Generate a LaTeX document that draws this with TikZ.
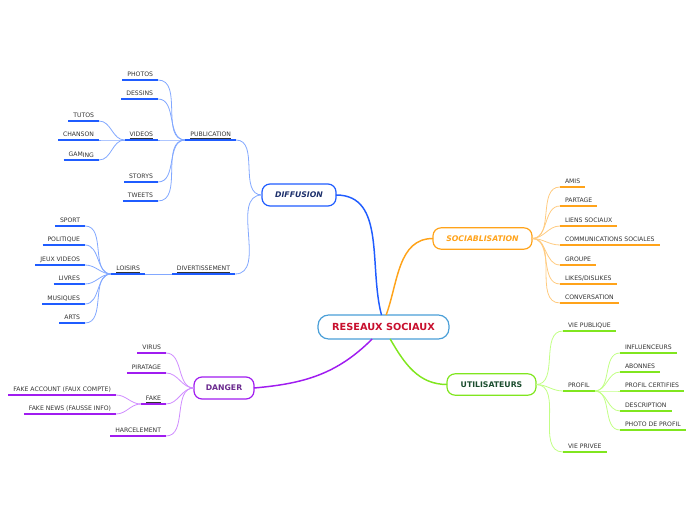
\documentclass[tikz,border=0pt]{standalone}
\usepackage{fontspec}
\setmainfont{DejaVu Sans}

\definecolor{mapblue}{HTML}{1F5CFF}
\definecolor{mapbluelt}{HTML}{82A8FF}
\definecolor{mapnavy}{HTML}{1C2F6B}
\definecolor{maporange}{HTML}{FFA31A}
\definecolor{maporangelt}{HTML}{FFCB80}
\definecolor{mapgreen}{HTML}{80E61F}
\definecolor{mapgreenlt}{HTML}{C2FF85}
\definecolor{mapgreentxt}{HTML}{1B4D2E}
\definecolor{mappurple}{HTML}{A01CF0}
\definecolor{mappurplelt}{HTML}{CF8CFF}
\definecolor{mappurpletxt}{HTML}{6B2A8F}
\definecolor{rootborder}{HTML}{4A9FD8}
\definecolor{roottext}{HTML}{C8102E}
\definecolor{leafgray}{HTML}{333333}

\tikzset{
  leaf/.style={inner xsep=3.75pt, inner ysep=2.6pt, outer sep=0pt,
    text height=3.4pt, text depth=0pt, text=leafgray,
    font=\fontsize{4.6}{5}\selectfont},
  lleaf/.style={leaf, anchor=south east},
  rleaf/.style={leaf, anchor=south west},
  topic/.style={draw, line width=0.9pt, rounded corners=6pt, fill=white,
    inner sep=0pt, outer sep=0pt, font=\fontsize{5.8}{7}\selectfont\bfseries},
  mainline/.style={line width=1.1pt},
  underl/.style={line width=1.5pt},
  twig/.style={line width=0.6pt}
}

\begin{document}
\begin{tikzpicture}[x=0.75pt,y=-0.75pt]
\useasboundingbox (0,0) rectangle (696,520);

% root and main topics
\node[topic, draw=rootborder, text=roottext, minimum width=98.25pt, minimum height=18pt,
  rounded corners=8pt, font=\fontsize{7.3}{9}\selectfont\bfseries] (reseaux) at (383.5,327) {RESEAUX SOCIAUX};
\node[topic, draw=mapblue, text=mapnavy, minimum width=55.5pt, minimum height=16.5pt,
  font=\fontsize{5.8}{7}\selectfont\bfseries\itshape] (diffusion) at (299,195) {DIFFUSION};
\node[topic, draw=maporange, text=maporange, minimum width=74.25pt, minimum height=16pt,
  font=\fontsize{5.8}{7}\selectfont\bfseries\itshape] (sociab) at (482.5,238.5) {SOCIABLISATION};
\node[topic, draw=mapgreen, text=mapgreentxt, minimum width=66.75pt, minimum height=16pt] (utilis) at (491.5,384.5) {UTILISATEURS};
\node[topic, draw=mappurple, text=mappurpletxt, minimum width=45pt, minimum height=16.5pt] (danger) at (224,388) {DANGER};

\draw[mainline, mapblue] (diffusion.east) to[out=0,in=105] ([xshift=-1.5pt]reseaux.north);
\draw[mainline, maporange] (sociab.west) to[out=180,in=70] ([xshift=2pt]reseaux.north);
\draw[mainline, mapgreen] ([xshift=5pt]reseaux.south) to[out=-60,in=180] (utilis.west);
\draw[mainline, mappurple] ([xshift=-8.5pt]reseaux.south) to[out=225,in=5] (danger.east);

% diffusion
\node[lleaf] (publication) at (236,140) {\underline{PUBLICATION}};
\node[lleaf] (photos) at (158,80) {PHOTOS};
\node[lleaf] (dessins) at (158,99) {DESSINS};
\node[lleaf] (videos) at (158,140) {\underline{VIDEOS}};
\node[lleaf] (storys) at (158,182) {STORYS};
\node[lleaf] (tweets) at (158,201) {TWEETS};
\node[lleaf] (tutos) at (99,121) {TUTOS};
\node[lleaf] (chanson) at (99,140) {CHANSON};
\node[lleaf] (gaming) at (99,160) {GAM\raisebox{-0.8pt}{ING}};
\node[lleaf] (divert) at (235,274) {\underline{DIVERTISSEMENT}};
\node[lleaf] (loisirs) at (145,274) {\underline{LOISIRS}};
\node[lleaf] (sport) at (85,226) {SPORT};
\node[lleaf] (politique) at (85,245) {POLITIQUE};
\node[lleaf] (jeux) at (85,265) {JEUX VIDEOS};
\node[lleaf] (livres) at (85,284) {LIVRES};
\node[lleaf] (musiques) at (85,304) {MUSIQUES};
\node[lleaf] (arts) at (85,323) {ARTS};

\foreach \n in {publication,divert}
  \draw[twig, mapbluelt] (diffusion.west) to[out=180,in=0] (\n.south east);
\foreach \n in {photos,dessins,videos,storys,tweets}
  \draw[twig, mapbluelt] (publication.south west) to[out=180,in=0] (\n.south east);
\foreach \n in {tutos,chanson,gaming}
  \draw[twig, mapbluelt] (videos.south west) to[out=180,in=0] (\n.south east);
\draw[twig, mapbluelt] (divert.south west) -- (loisirs.south east);
\foreach \n in {sport,politique,jeux,livres,musiques,arts}
  \draw[twig, mapbluelt] (loisirs.south west) to[out=180,in=0] (\n.south east);
\foreach \n in {publication,photos,dessins,videos,storys,tweets,tutos,chanson,gaming,
    divert,loisirs,sport,politique,jeux,livres,musiques,arts}
  \draw[underl, mapblue] (\n.south west) -- (\n.south east);

% danger
\node[lleaf] (virus) at (166,353) {VIRUS};
\node[lleaf] (piratage) at (166,373) {PIRATAGE};
\node[lleaf] (fake) at (166,404) {\underline{FAKE}};
\node[lleaf] (harcelement) at (166,436) {HARCELEMENT};
\node[lleaf] (fakeaccount) at (116,395) {FAKE ACCOUNT (FAUX COMPTE)};
\node[lleaf] (fakenews) at (116,414) {FAKE NEWS (FAUSSE INFO)};

\foreach \n in {virus,piratage,fake,harcelement}
  \draw[twig, mappurplelt] (danger.west) to[out=180,in=0] (\n.south east);
\foreach \n in {fakeaccount,fakenews}
  \draw[twig, mappurplelt] (fake.south west) to[out=180,in=0] (\n.south east);
\foreach \n in {virus,piratage,fake,harcelement,fakeaccount,fakenews}
  \draw[underl, mappurple] (\n.south west) -- (\n.south east);

% sociablisation
\node[rleaf] (amis) at (560,187) {AMIS};
\node[rleaf] (partage) at (560,206) {PARTAGE};
\node[rleaf] (liens) at (560,226) {LIENS SOCIAUX};
\node[rleaf] (communic) at (560,245) {COMMUNICATIONS SOCIALES};
\node[rleaf] (groupe) at (560,265) {GROUPE};
\node[rleaf] (likes) at (560,284) {LIKES/DISLIKES};
\node[rleaf] (conversation) at (560,303) {CONVERSATION};

\foreach \n in {amis,partage,liens,communic,groupe,likes,conversation}
  \draw[twig, maporangelt] (sociab.east) to[out=0,in=180] (\n.south west);
\foreach \n in {amis,partage,liens,communic,groupe,likes,conversation}
  \draw[underl, maporange] (\n.south west) -- (\n.south east);

% utilisateurs
\node[rleaf] (viepublique) at (563,331) {VIE PUBLIQUE};
\node[rleaf] (profil) at (563,391) {PROFIL};
\node[rleaf] (vieprivee) at (563,452) {VIE PRIVEE};
\node[rleaf] (influenceurs) at (620,353) {INFLUENCEURS};
\node[rleaf] (abonnes) at (620,372) {ABONNES};
\node[rleaf] (certifies) at (620,391) {PROFIL CERTIFIES};
\node[rleaf] (description) at (620,411) {DESCRIPTION};
\node[rleaf] (photoprofil) at (620,430) {PHOTO DE PROFIL};

\foreach \n in {viepublique,profil,vieprivee}
  \draw[twig, mapgreenlt] (utilis.east) to[out=0,in=180] (\n.south west);
\foreach \n in {influenceurs,abonnes,certifies,description,photoprofil}
  \draw[twig, mapgreenlt] (profil.south east) to[out=0,in=180] (\n.south west);
\foreach \n in {viepublique,profil,vieprivee,influenceurs,abonnes,certifies,description,photoprofil}
  \draw[underl, mapgreen] (\n.south west) -- (\n.south east);
\end{tikzpicture}
\end{document}
